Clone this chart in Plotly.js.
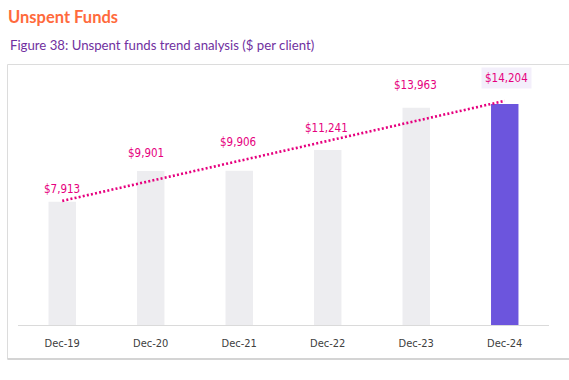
<!DOCTYPE html>
<html>
<head>
<meta charset="utf-8">
<script src="https://cdn.plot.ly/plotly-3.0.1.min.js"></script>
<style>
  html, body { margin: 0; padding: 0; background: #ffffff; }
  #chart { width: 569px; height: 380px; }
</style>
</head>
<body>
<div id="chart"></div>
<script>
// ---- Data ----
const categories = ["Dec-19", "Dec-20", "Dec-21", "Dec-22", "Dec-23", "Dec-24"];
const values = [7913, 9901, 9906, 11241, 13963, 14204];
const valueLabels = ["$7,913", "$9,901", "$9,906", "$11,241", "$13,963", "$14,204"];

// ---- Styling (not data) ----
const barColors = ["#EDEDF0", "#EDEDF0", "#EDEDF0", "#EDEDF0", "#EDEDF0", "#6C55DD"];
const labelYShift = [13, 18, 29, 22, 23, 26];
const labelXShift = [0, -5, -1, -1, -1, 2];
const labelBg = ["rgba(0,0,0,0)", "rgba(0,0,0,0)", "rgba(0,0,0,0)", "rgba(0,0,0,0)", "rgba(0,0,0,0)", "#F3EFFB"];
const pink = "#E6007E";

// Linear trendline (least squares fit of the series, as in the source chart)
const xi = values.map((_, i) => i);
const n = values.length;
const mx = xi.reduce((a, b) => a + b, 0) / n;
const my = values.reduce((a, b) => a + b, 0) / n;
let sxy = 0, sxx = 0;
for (let i = 0; i < n; i++) { sxy += (xi[i] - mx) * (values[i] - my); sxx += (xi[i] - mx) ** 2; }
const slope = sxy / sxx;
const intercept = my - slope * mx;
const trend = xi.map(x => intercept + slope * x);

const barTrace = {
  type: "bar",
  x: categories,
  y: values,
  marker: { color: barColors, line: { width: 0 } },
  width: 0.31,
  hoverinfo: "skip",
  showlegend: false
};

const trendTrace = {
  type: "scatter",
  mode: "lines",
  x: categories,
  y: trend,
  line: { color: pink, width: 2.6, dash: "2px,2.2px" },
  hoverinfo: "skip",
  showlegend: false
};

const labelFont = "'Liberation Sans Narrow', 'DejaVu Sans Condensed', 'Liberation Sans', sans-serif";

const annotations = categories.map((c, i) => ({
  x: c, y: values[i], xref: "x", yref: "y",
  text: valueLabels[i],
  showarrow: false,
  xanchor: "center", yanchor: "middle",
  yshift: labelYShift[i], xshift: labelXShift[i],
  font: { family: labelFont, size: 11.5, color: pink },
  bgcolor: labelBg[i],
  borderpad: 3
}));

annotations.push({
  xref: "paper", yref: "paper",
  x: (8 - 18) / 531, y: (325 - 45) / 249,
  xanchor: "left", yanchor: "middle",
  text: "Figure 38: Unspent funds trend analysis ($ per client)",
  showarrow: false,
  font: { family: "Lato, 'Open Sans', sans-serif", size: 13.2, color: "#7030A0" }
});

const plotL = 18, plotR = 549, plotT = 76, plotB = 325;
const pw = plotR - plotL, ph = plotB - plotT;
const px = v => (v - plotL) / pw;
const py = v => (plotB - v) / ph;

const layout = {
  width: 569, height: 380,
  margin: { l: plotL, r: 569 - plotR, t: plotT, b: 380 - plotB, pad: 0 },
  paper_bgcolor: "#ffffff",
  plot_bgcolor: "#ffffff",
  title: {
    text: "<b>Unspent Funds</b>",
    xref: "container", yref: "container",
    x: 8 / 569, xanchor: "left",
    y: 1 - 17 / 380, yanchor: "middle",
    font: { family: "Lato, 'Open Sans', sans-serif", size: 16.5, color: "#FF6A3C" }
  },
  xaxis: {
    type: "category",
    range: [-0.5, 5.5],
    showgrid: false, zeroline: false,
    showline: true, linecolor: "#DADADA", linewidth: 1,
    ticks: "",
    ticklabelstandoff: 8,
    tickfont: { family: labelFont, size: 11, color: "#404040" },
    fixedrange: true
  },
  yaxis: {
    range: [0, 16000],
    showgrid: false, zeroline: false, showline: false,
    showticklabels: false, ticks: "",
    fixedrange: true
  },
  bargap: 0.69,
  annotations: annotations,
  shapes: [
    { type: "rect", xref: "paper", yref: "paper", layer: "below",
      x0: px(7.5), x1: px(575), y0: py(359), y1: py(64.5),
      line: { color: "#DCDCDC", width: 1 }, fillcolor: "rgba(0,0,0,0)" },
    { type: "line", xref: "paper", yref: "paper", layer: "below",
      x0: px(7.5), x1: px(575), y0: py(359), y1: py(359),
      line: { color: "#D4D4D4", width: 2 } }
  ],
  showlegend: false
};

Plotly.newPlot("chart", [barTrace, trendTrace], layout, { displayModeBar: false, staticPlot: true });
</script>
</body>
</html>
